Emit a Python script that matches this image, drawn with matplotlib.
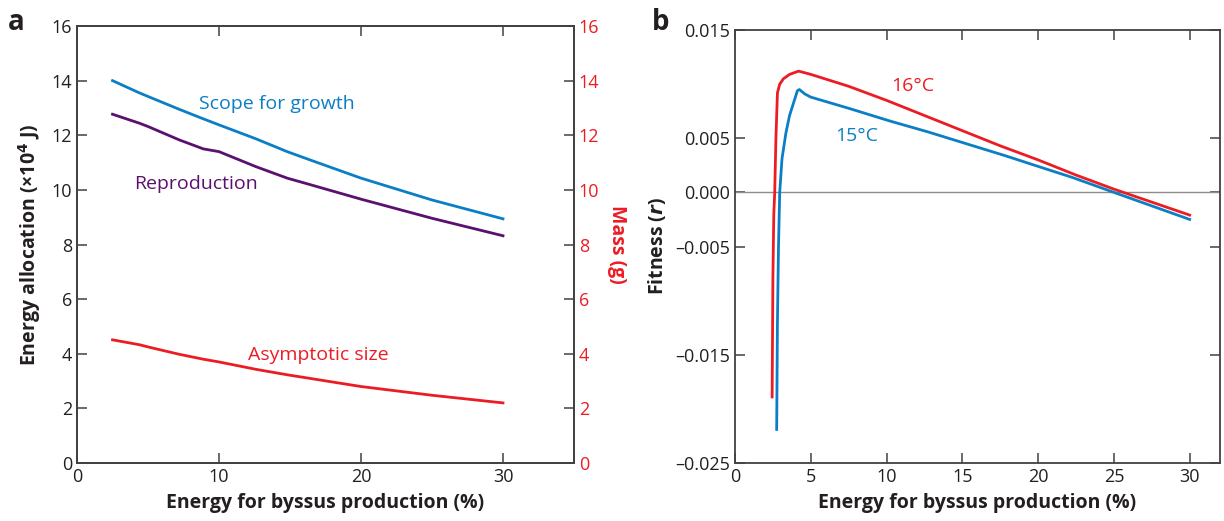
import matplotlib.pyplot as plt

plt.rcParams['font.family'] = ['Open Sans', 'DejaVu Sans']

# panel a: energy allocation vs energy for byssus production
byssus_a = [2.5, 4.4, 5.0, 7.2, 8.9, 10.0, 12.6, 14.8, 16.5, 20.0, 25.0, 30.0]
scope_growth = [14.0, 13.55, 13.42, 12.95, 12.6, 12.38, 11.87, 11.4, 11.08, 10.43, 9.63, 8.94]
reproduction = [12.77, 12.44, 12.32, 11.83, 11.5, 11.4, 10.85, 10.43, 10.18, 9.66, 8.96, 8.32]
asym_size = [4.51, 4.33, 4.25, 3.98, 3.8, 3.70, 3.43, 3.23, 3.09, 2.80, 2.48, 2.20]

# panel b: fitness r
byssus_16 = [2.45, 2.5, 2.56, 2.62, 2.7, 2.8, 2.95, 3.2, 3.6, 4.2, 5.0, 7.5, 10.0, 12.5, 15.0,
             17.5, 20.0, 22.5, 25.0, 27.5, 30.0]
fitness_16 = [-0.0189, -0.008, -0.002, 0.0, 0.005, 0.0092, 0.0100, 0.0105, 0.0109, 0.0112, 0.0109,
              0.0098, 0.0085, 0.0071, 0.0057, 0.0043, 0.0030, 0.0016, 0.0003, -0.0009, -0.0021]
byssus_15 = [2.75, 2.8, 2.87, 2.95, 3.1, 3.36, 3.6, 3.87, 4.12, 4.25, 4.6, 5.0, 7.66, 10.2, 12.7,
             15.25, 17.8, 20.0, 22.3, 25.0, 30.0]
fitness_15 = [-0.0219, -0.012, -0.005, 0.0, 0.0031, 0.0055, 0.0071, 0.0083, 0.0094, 0.0095, 0.0091,
              0.0088, 0.0077, 0.0066, 0.0056, 0.0045, 0.0034, 0.0024, 0.00136, 0.0, -0.0025]

BLUE = '#0a7fc5'
PURPLE = '#5b0f6e'
RED = '#ec1c24'
DARK = '#231f20'
SPINE = '#414042'

fig = plt.figure(figsize=(12.24, 5.21), dpi=100)
ax1 = fig.add_axes([77 / 1224, 58 / 521, 497 / 1224, 437 / 521])
ax2 = ax1.twinx()
ax3 = fig.add_axes([735 / 1224, 58 / 521, 485 / 1224, 433 / 521])

lw = 2.0
ax1.plot(byssus_a, scope_growth, color=BLUE, lw=lw)
ax1.plot(byssus_a, reproduction, color=PURPLE, lw=lw)
ax2.plot(byssus_a, asym_size, color=RED, lw=lw)

ax1.set_xlim(0, 35)
ax1.set_ylim(0, 16)
ax2.set_ylim(0, 16)
ax1.set_xticks([0, 10, 20, 30])
ax1.set_yticks(range(0, 17, 2))
ax2.set_yticks(range(0, 17, 2))

ax1.text(14.1, 13.15, 'Scope for growth', color=BLUE, fontsize=14, ha='center', va='center')
ax1.text(8.4, 10.2, 'Reproduction', color=PURPLE, fontsize=14, ha='center', va='center')
ax1.text(17.0, 3.96, 'Asymptotic size', color=RED, fontsize=14, ha='center', va='center')

ax1.set_xlabel('Energy for byssus production (%)', fontsize=14, fontweight='bold', color=DARK, labelpad=5)
ax1.set_ylabel('Energy allocation (×10$^\\mathbf{4}$ J)', fontsize=14, fontweight='bold', color=DARK, labelpad=6)
ax2.set_ylabel('Mass (g)', fontsize=14, fontweight='bold', color=RED, rotation=-90, labelpad=20)

ax3.axhline(0, color='#8c8c8c', lw=1.0)
ax3.plot(byssus_16, fitness_16, color=RED, lw=lw)
ax3.plot(byssus_15, fitness_15, color=BLUE, lw=lw)
ax3.set_xlim(0, 32)
ax3.set_ylim(-0.025, 0.015)
ax3.set_xticks([0, 5, 10, 15, 20, 25, 30])
ax3.set_yticks([0.015, 0.005, 0.0, -0.005, -0.015, -0.025])
ax3.set_yticklabels(['0.015', '0.005', '0.000', '–0.005', '–0.015', '–0.025'])
ax3.text(11.7, 0.0098, '16°C', color=RED, fontsize=14, ha='center', va='center')
ax3.text(8.0, 0.0052, '15°C', color=BLUE, fontsize=14, ha='center', va='center')
ax3.set_xlabel('Energy for byssus production (%)', fontsize=14, fontweight='bold', color=DARK, labelpad=5)
ax3.set_ylabel('Fitness ($\\mathbfit{r}$)', fontsize=14, fontweight='bold', color=DARK, labelpad=5)

for ax in (ax1, ax2, ax3):
    for sp in ax.spines.values():
        sp.set_color(SPINE)
        sp.set_linewidth(1.3)

ax1.tick_params(axis='both', direction='in', length=7, width=1.1, color=SPINE,
                labelsize=13, labelcolor=DARK, top=True)
ax2.tick_params(axis='y', direction='in', length=7, width=1.1, color=SPINE,
                labelsize=13, labelcolor=RED)
ax3.tick_params(axis='both', direction='in', length=7, width=1.1, color=SPINE,
                labelsize=13, labelcolor=DARK, top=True, right=True)

fig.text(8 / 1224, 1 - 22 / 521, 'a', fontsize=20, fontweight='bold', color=DARK, va='center')
fig.text(652 / 1224, 1 - 22 / 521, 'b', fontsize=20, fontweight='bold', color=DARK, va='center')

fig.savefig('out.png', dpi=100)
